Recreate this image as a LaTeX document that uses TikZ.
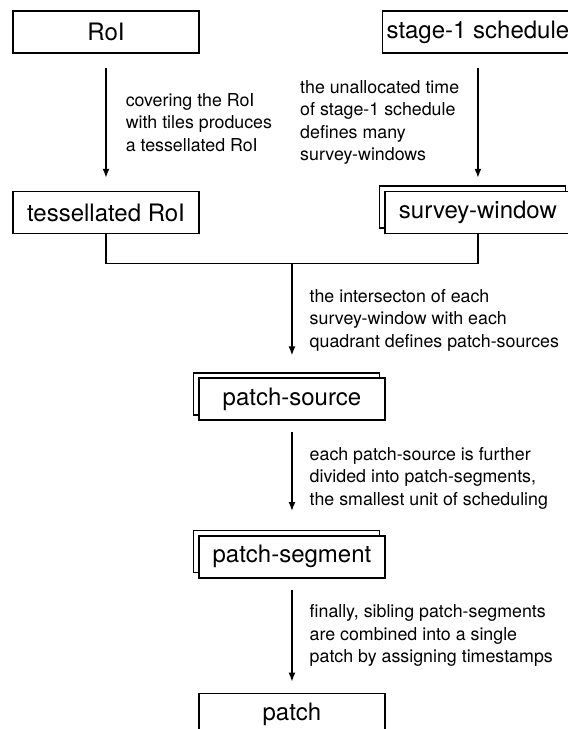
\documentclass[tikz,border=0pt]{standalone}
\usepackage{fontspec}
\setmainfont{TeX Gyre Heros}
\usetikzlibrary{positioning,calc,shadows,arrows.meta}

\begin{document}
\begin{tikzpicture}[
    block/.style={
        rectangle,
        draw=black, line width=0.8pt,
        fill=white,
        minimum width=93pt, minimum height=21pt,
        inner xsep=2pt,
        font=\fontsize{12}{14}\selectfont},
    stacked/.style={
        block,
        % the copy behind, shifted up and left
        copy shadow={shadow xshift=-2.75pt, shadow yshift=2.75pt,
                     draw=black, fill=white, line width=0.8pt}},
    note/.style={
        inner sep=0pt,
        align=left,
        font=\fontsize{8.9}{11.25}\selectfont},
    flow/.style={
        -{Latex[length=4.5pt,width=3.5pt]}, line width=0.75pt,
        shorten <=7pt, shorten >=6.5pt}]

    \useasboundingbox (0,0) rectangle (284pt,-364.5pt);

    \node (roi) [block] at (53pt,-16pt) {RoI};
    \node (stage) [block, right=91pt of roi] {stage-1 schedule};

    \node (tess) [block, below=68.5pt of roi] {tessellated RoI};
    \node (survey) [stacked, below=68.5pt of stage] {survey-window};

    \coordinate[below=14.5pt of tess.south] (tess_foot);
    \coordinate[below=14.5pt of survey.south] (survey_foot);
    \coordinate (join) at ($(tess_foot)!0.5!(survey_foot)$);

    \node (psource) [stacked, below=57pt of join] {patch-source};
    \node (psegment) [stacked, below=57pt of psource] {patch-segment};
    \node (patch) [block, below=57pt of psegment] {patch};

    \draw[flow] (roi) -- node[note, right=9.5pt]
        {covering the RoI\\with tiles produces\\a tessellated RoI} (tess);
    \draw[flow] (stage) -- node[note, left=9pt]
        {the unallocated time\\of stage-1 schedule\\defines many\\survey-windows} (survey);

    \draw[line width=0.75pt] (tess.south) -- (tess_foot) -- (survey_foot) -- (survey.south);

    \draw[flow, shorten <=0pt, shorten >=11pt] (join) -- node[note, right=8.5pt]
        {the intersecton of each\\survey-window with each\\quadrant defines patch-sources} (psource);
    \draw[flow, shorten <=5.5pt, shorten >=12pt] (psource) -- node[note, right=8.5pt]
        {each patch-source is further\\divided into patch-segments,\\the smallest unit of scheduling} (psegment);
    \draw[flow, shorten <=5.5pt, shorten >=5.5pt] (psegment) -- node[note, right=8.5pt]
        {finally, sibling patch-segments\\are combined into a single\\patch by assigning timestamps} (patch);
\end{tikzpicture}
\end{document}
